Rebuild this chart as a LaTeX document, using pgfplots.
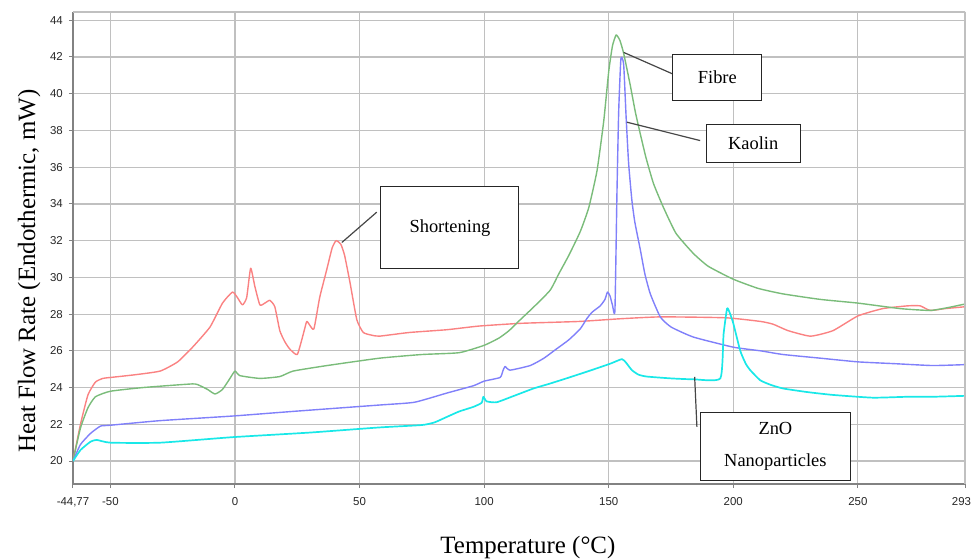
\documentclass[border=0pt]{standalone}
\usepackage{pgfplots}
\pgfplotsset{compat=1.18}
\usepackage{fontspec}
\setmainfont{Liberation Serif}
\newfontfamily\ticksf{Liberation Sans}

\definecolor{cshort}{RGB}{250,130,130}
\definecolor{cfibre}{RGB}{122,188,122}
\definecolor{ckaolin}{RGB}{128,128,250}
\definecolor{czno}{RGB}{25,232,232}
\definecolor{gridgray}{RGB}{192,192,192}
\definecolor{axgray}{RGB}{130,130,130}
\definecolor{leader}{RGB}{70,70,70}

\begin{document}
\begin{tikzpicture}
\useasboundingbox (-73bp,-75bp) rectangle (899bp,484bp);
\begin{axis}[
    scale only axis,
    width=892bp, height=472bp,
    xmin=-65, xmax=293,
    ymin=18.75, ymax=44.45,
    xtick={-65,-50,0,50,100,150,200,250,293},
    xticklabels={{-44,77},-50,0,50,100,150,200,250,{\kern-7bp 293}},
    ytick={20,22,...,44},
    grid=major,
    grid style={gridgray, line width=1.2bp},
    axis x line*=bottom, axis y line*=left,
    axis line style={axgray, line width=1.2bp, -},
    tick align=outside,
    major tick length=4bp,
    tick style={axgray, line width=1bp},
    /pgf/number format/assume math mode=true,
    ticklabel style={font=\ticksf\fontsize{11.5}{12}\selectfont, text=black!85},
    xticklabel style={inner sep=0pt, anchor=north, yshift=-9bp},
    yticklabel style={inner sep=0pt, anchor=east, xshift=-6bp},
    xlabel={Temperature (°C)},
    ylabel={Heat Flow Rate (Endothermic, mW)},
    xlabel style={at={(axis description cs:0.51,-0.1356)}, anchor=center,
        font=\fontsize{25}{28}\selectfont},
    ylabel style={at={(axis description cs:-0.0493,0.451)}, anchor=center,
        font=\fontsize{25}{28}\selectfont},
    every axis plot/.append style={line width=1.4bp, line join=round, smooth, tension=0.3},
]

% Shortening
\addplot[cshort] coordinates {
    (-65,20.0) (-62,22.0) (-59,23.6) (-56,24.3) (-53,24.5) (-50,24.55)
    (-40,24.7) (-30,24.9) (-23,25.4) (-17,26.2) (-10,27.3) (-5,28.6)
    (-1,29.2) (1,28.9) (3,28.5) (4.7,28.9) (6.3,30.5) (8,29.5) (10,28.5)
    (12,28.6) (14,28.75) (16,28.4) (18,27.1) (20,26.5) (22,26.1) (25,25.8)
    (27.4,26.9) (28.8,27.6) (30,27.4) (31.7,27.2) (34,28.9) (36.8,30.4)
    (39,31.6) (40.6,32.0) (42.5,31.8) (44,31.2) (46.2,29.7) (48.9,27.7)
    (51.5,27.0) (55,26.85) (58,26.8) (70,27.0) (85,27.15) (98,27.35)
    (115,27.5) (138,27.6) (155,27.75) (171,27.85) (197,27.8) (211,27.6)
    (216,27.45) (222,27.1) (231,26.8) (240,27.1) (250,27.9) (260,28.3)
    (270,28.45) (275,28.45) (279,28.2) (285,28.3) (293,28.4)
};

% Fibre
\addplot[cfibre] coordinates {
    (-65,20.0) (-62,21.8) (-59,22.9) (-56,23.5) (-50,23.8) (-37,24.0)
    (-17,24.2) (-14,24.1) (-11,23.9) (-8,23.65) (-5,23.9) (-2,24.5)
    (0,24.9) (2,24.65) (10,24.5) (18,24.6) (23.4,24.9) (37,25.2) (58,25.6)
    (75,25.8) (90,25.9) (100,26.3) (106,26.7) (110,27.1) (113,27.5)
    (120,28.4) (126.5,29.3) (130,30.2) (134,31.2) (138.6,32.5) (142,33.8)
    (145.3,35.8) (148,38.5) (150,41.2) (151.5,42.6) (153,43.2) (154.5,42.9)
    (156,42.2) (158.6,40.5) (160.7,39.0) (162.7,37.8) (165,36.5) (168,35.1)
    (172,33.8) (177,32.4) (184,31.3) (190,30.6) (200,29.9) (210,29.4)
    (220,29.1) (235,28.8) (250,28.6) (267,28.3) (279,28.2) (286,28.35)
    (293,28.55)
};

% Kaolin
\addplot[ckaolin] coordinates {
    (-65,20.0) (-62,20.9) (-58,21.5) (-54,21.9) (-50,21.95) (-30,22.2)
    (-1,22.45) (23,22.7) (58,23.05) (72,23.2) (85,23.7) (95.7,24.1)
    (100,24.35) (106.4,24.55) (107.5,24.9) (108.4,25.15) (110.4,24.95)
    (118.5,25.2) (124,25.6) (129,26.1) (134,26.6) (138.6,27.2) (141.2,27.75)
    (143.3,28.1) (146.6,28.45) (148.5,28.8) (149.5,29.2) (150.5,29.0)
    (151.5,28.5) (152.5,28.2) (153.3,34.5) (154,39.0) (154.9,41.9)
    (156,41.6) (157,38.7) (158,36.2) (159.3,34.2) (160.5,33.0) (162.7,31.5)
    (164.5,30.2) (166.7,29.1) (170.7,27.85) (175,27.3) (184,26.75)
    (200,26.2) (211,26.0) (220,25.8) (235,25.6) (250,25.4) (265,25.3)
    (280,25.2) (293,25.25)
};

% ZnO nanoparticles
\addplot[czno, line width=1.7bp] coordinates {
    (-65,20.0) (-62,20.6) (-58,21.05) (-55.5,21.15) (-50,21.0) (-30,21.0)
    (-1,21.3) (30,21.55) (58,21.83) (75,21.96) (80,22.1) (85,22.4)
    (90,22.7) (95.7,22.95) (99,23.17) (99.7,23.5) (101,23.25) (105,23.2)
    (112,23.55) (119.8,23.95) (126,24.2) (133,24.5) (142,24.9) (150.6,25.3)
    (155.3,25.55) (157,25.35) (159.3,24.95) (162,24.7) (165.3,24.6)
    (175,24.5) (184,24.45) (194.8,24.5) (196.1,26.9) (197.5,28.3)
    (198.5,28.1) (200,27.5) (202.8,26.0) (205,25.3) (206.8,24.95)
    (210.8,24.4) (215,24.15) (220,23.95) (230,23.75) (240,23.6)
    (256,23.45) (270,23.5) (280,23.5) (293,23.55)
};

% frame top and right
\draw[gridgray, line width=1.2bp] (rel axis cs:0,1) -- (rel axis cs:1,1) -- (rel axis cs:1,0);

% callouts
\begin{scope}[every node/.style={draw=black!85, fill=white, line width=1bp,
        inner sep=0pt, align=center, font=\fontsize{18.5}{33}\selectfont}]
\draw[leader, line width=1.2bp] (axis cs:56.9,33.55) -- (axis cs:42.9,31.9);
\draw[leader, line width=1.2bp] (axis cs:175.8,41.07) -- (axis cs:156,42.25);
\draw[leader, line width=1.2bp] (axis cs:186.7,37.45) -- (axis cs:157.3,38.45);
\draw[leader, line width=1.2bp] (axis cs:185.4,21.86) -- (axis cs:184.5,24.58);
\node[minimum width=138bp, minimum height=82bp] at (axis cs:86.3,32.7) {Shortening};
\node[minimum width=89bp, minimum height=46bp] at (axis cs:193.6,40.9) {Fibre};
\node[minimum width=94bp, minimum height=38bp] at (axis cs:208,37.3) {Kaolin};
\node[minimum width=150bp, minimum height=68bp] at (axis cs:216.9,20.8) {ZnO\\Nanoparticles};
\end{scope}
\end{axis}
\end{tikzpicture}
\end{document}
